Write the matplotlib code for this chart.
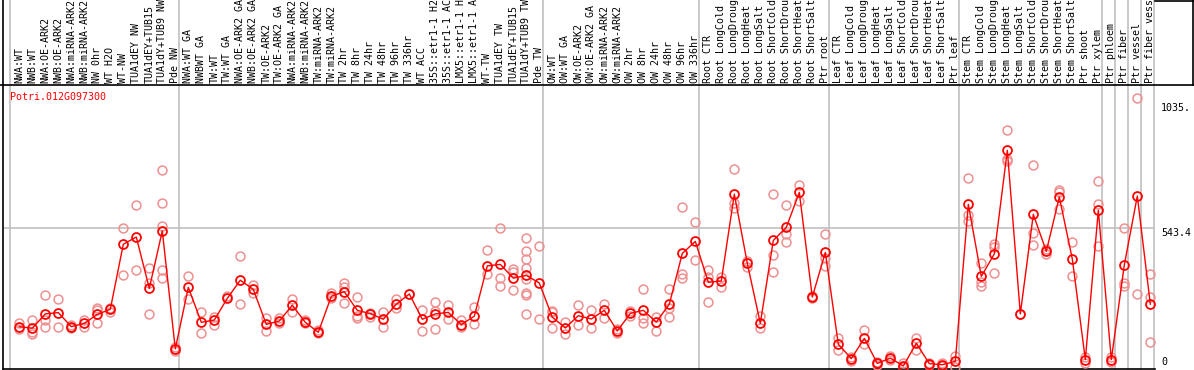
import matplotlib
matplotlib.use('Agg')
import matplotlib.pyplot as plt
import matplotlib.transforms as mtransforms

# sample labels (as shown, cut to 14 chars)
labels = ['NWA:WT', 'NWB:WT', 'NWA:OE-ARK2', 'NWB:OE-ARK2', 'NWA:miRNA-ARK2', 'NWB:miRNA-ARK2',
          'NW 0hr', 'WT H2O', 'WT-NW', 'TUA1dEY NW', 'TUA1dEY+TUB15', 'TUA1dY+TUB9 NW', 'Pde NW',
          'NWA:WT GA', 'NWBWT GA', 'TW:WT', 'TW:WT GA', 'NWA:OE-ARK2 GA', 'NWB:OE-ARK2 GA',
          'TW:OE-ARK2', 'TW:OE-ARK2 GA', 'NWA:miRNA-ARK2', 'NWB:miRNA-ARK2', 'TW:miRNA-ARK2',
          'TW:miRNA-ARK2', 'TW 2hr', 'TW 8hr', 'TW 24hr', 'TW 48hr', 'TW 96hr', 'TW 336hr', 'WT ACC',
          '35S::etr1-1 H2', '35S::etr1-1 AC', 'LMX5::etr1-1 H', 'LMX5::etr1-1 A', 'WT-TW',
          'TUA1dEY TW', 'TUA1dEY+TUB15', 'TUA1dY+TUB9 TW', 'Pde TW',
          'OW:WT', 'OW:WT GA', 'OW:OE-ARK2', 'OW:OE-ARK2 GA', 'OW:miRNA-ARK2', 'OW:miRNA-ARK2',
          'OW 2hr', 'OW 8hr', 'OW 24hr', 'OW 48hr', 'OW 96hr', 'OW 336hr',
          'Root CTR', 'Root LongCold', 'Root LongDroug', 'Root LongHeat', 'Root LongSalt',
          'Root ShortCold', 'Root ShortDrou', 'Root ShortHeat', 'Root ShortSalt', 'Ptr root',
          'Leaf CTR', 'Leaf LongCold', 'Leaf LongDroug', 'Leaf LongHeat', 'Leaf LongSalt',
          'Leaf ShortCold', 'Leaf ShortDrou', 'Leaf ShortHeat', 'Leaf ShortSalt', 'Ptr leaf',
          'Stem CTR', 'Stem LongCold', 'Stem LongDroug', 'Stem LongHeat', 'Stem LongSalt',
          'Stem ShortCold', 'Stem ShortDrou', 'Stem ShortHeat', 'Stem ShortSalt', 'Ptr shoot',
          'Ptr xylem', 'Ptr phloem', 'Ptr fiber', 'Ptr vessel', 'Ptr fiber vess']

# number of samples in each block (grey separators)
group_sizes = [13, 28, 12, 10, 10, 11, 1, 1, 1, 1]

# mean expression per sample
means = [158, 152, 208, 213, 158, 171, 206, 226, 481, 509, 308, 533, 71,
         312, 175, 184, 269, 340, 304, 167, 180, 242, 175, 136, 277, 295, 222, 209,
         187, 246, 286, 187, 208, 214, 166, 199, 396, 402, 348, 359, 329,
         195, 153, 201, 188, 222, 141, 210, 222, 176, 246, 445, 492,
         332, 337, 677, 406, 171, 496, 547, 684, 274, 449,
         89, 33, 112, 14, 35, 4, 93, 13, 9, 22,
         637, 355, 443, 849, 208, 598, 453, 666, 423, 29, 614,
         29, 400, 670, 246]

# replicate values per sample
reps = [[174, 148], [184, 129, 136], [282, 184, 158], [265, 158], [165, 153], [184, 158],
        [231, 223, 171], [231, 217], [543, 359], [634, 379], [387, 330, 208],
        [771, 641, 552, 380, 348], [80, 64],
        [355, 265], [214, 132], [197, 165], [278], [435, 247], [321, 289], [191, 142],
        [191, 171], [265, 217], [184, 171], [145, 132], [289, 269], [328, 315, 250],
        [273, 200, 191], [213, 197], [214, 158], [265, 230], [286], [223, 140],
        [253, 221, 149], [242, 189], [184, 156], [236, 167], [457, 363], [543, 348, 316],
        [384, 371, 301], [504, 453, 422, 387, 344, 291, 282, 208], [474, 187],
        [221, 214, 152], [175, 128], [242, 163], [223, 154], [246, 193], [148, 134],
        [218, 201], [304, 193, 171], [197, 140], [304, 230, 197], [627, 363, 348], [567, 418],
        [379, 354, 255], [354, 315], [776, 641, 622], [416, 393], [200, 152],
        [677, 438, 372], [634, 520, 491], [713, 650], [278, 269], [521, 428, 396],
        [115, 67], [40, 25], [145, 90], [21, 8], [44, 27], [14, 1], [112, 67], [17, 8],
        [14, 4], [43, 1],
        [739, 596, 573], [406, 334, 317], [482, 471, 367], [927, 815, 807], [208],
        [790, 524, 477], [463, 444], [693, 686, 618], [491, 357], [40, 14], [729, 637, 474],
        [40, 21], [545, 328, 317], [1053, 286], [364, 275, 99]]

gene = 'Potri.012G097300'
yticks = [0, 543.4, 1035]
ytick_labels = ['0', '543.4', '1035.']

W, H = 1194, 370
mono = 'DejaVu Sans Mono'
fs = 7.2

fig = plt.figure(figsize=(W / 100, H / 100), dpi=100)
ax = fig.add_axes([3 / W, 1 - 368.7 / H, (1155 - 3) / W, (368.7 - 85) / H])

x = list(range(len(labels)))
rx, ry = [], []
for i, r in enumerate(reps):
    rx += [i] * len(r)
    ry += r

ax.plot(rx, ry, 'o', ms=6.4, mfc='none', mec='#ef8f8f', mew=1.1, zorder=3)
ax.plot(x, means, '-', color='red', lw=1.0, zorder=4)
ax.plot(x, means, 'o', ms=6.4, mfc='none', mec='red', mew=1.3, zorder=5)

ax.set_xlim(-1.254, 87.36)
ax.set_ylim(-6.7, 1104.8)

# grey separators between sample blocks, running up into the label strip
b = 0
for g in group_sizes:
    ax.axvline(b - 0.7, ymin=0, ymax=1.3, color='#c0c0c0', lw=1.2, clip_on=False, zorder=1)
    b += g
ax.axvline(b - 0.7, ymin=0, ymax=1.3, color='#c0c0c0', lw=1.2, clip_on=False, zorder=1)
ax.axhline(543.4, color='#c0c0c0', lw=1.2, zorder=1)

ax.set_xticks([])
ax.set_yticks([])
for s in ['right', 'top']:
    ax.spines[s].set_visible(False)
ax.spines['left'].set_linewidth(1.2)
ax.spines['bottom'].set_linewidth(1.2)

# black line under the label strip, left edge and small box top right
fig.add_artist(plt.Line2D([0, 1], [1 - 85 / H, 1 - 85 / H], color='black', lw=1.2))
fig.add_artist(plt.Line2D([3 / W, 3 / W], [1 - 85 / H, 1], color='black', lw=1.2))
fig.add_artist(plt.Line2D([1155 / W, 1], [1 - 0.6 / H, 1 - 0.6 / H], color='black', lw=1.2))
fig.add_artist(plt.Line2D([1193.4 / W, 1193.4 / W], [1 - 85 / H, 1], color='black', lw=1.2))

# sample labels
tr = mtransforms.blended_transform_factory(ax.transData, fig.transFigure)
for i, lab in enumerate(labels):
    ax.text(i, 1 - 83 / H, lab, rotation=90, ha='center', va='bottom', family=mono,
            fontsize=fs, transform=tr, clip_on=False)

# value labels on the right
tr2 = mtransforms.blended_transform_factory(fig.transFigure, ax.transData)
for v, t in zip(yticks, ytick_labels):
    ax.text(1161 / W, v, t, ha='left', va='bottom' if v == 0 else 'top',
            family=mono, fontsize=fs, transform=tr2, clip_on=False)

ax.text(10 / W, 1 - 97 / H, gene, color='red', family=mono, fontsize=fs, va='center',
        ha='left', transform=fig.transFigure)

fig.savefig('out.png', dpi=100)
